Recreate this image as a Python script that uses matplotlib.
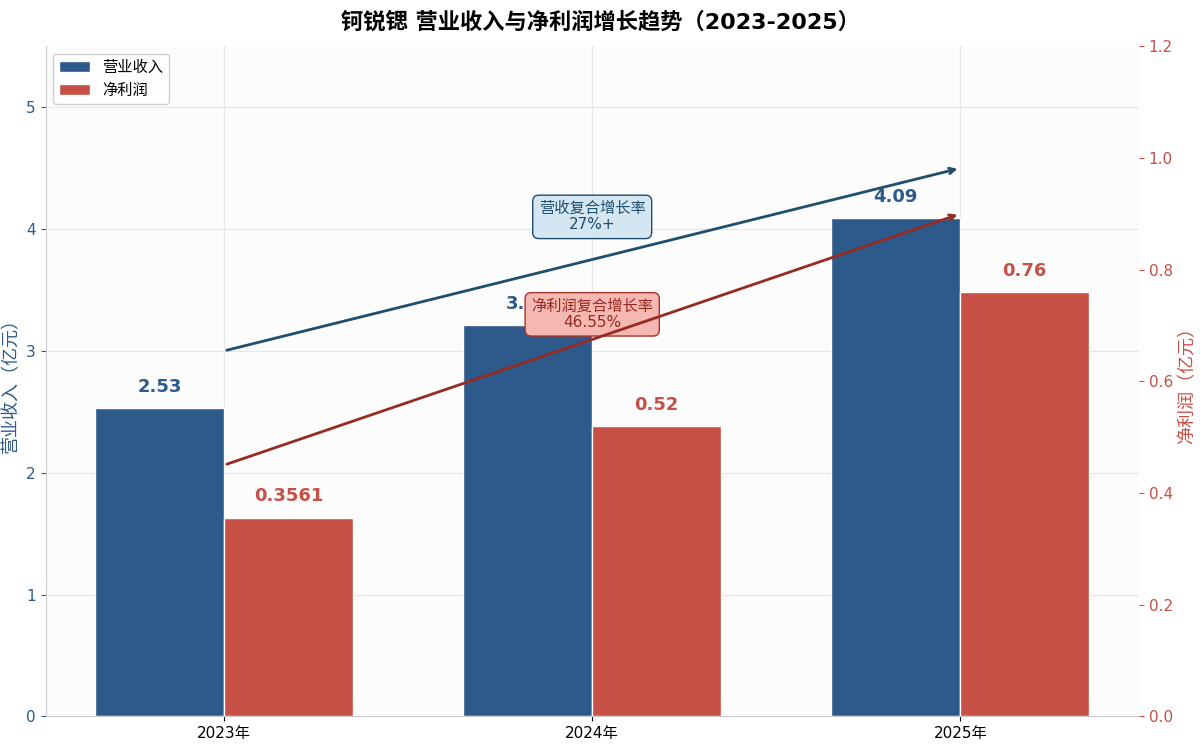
import matplotlib
matplotlib.use("Agg")
import matplotlib.pyplot as plt
import numpy as np

plt.rcParams['font.family'] = ['DejaVu Sans', 'Noto Sans CJK SC']
plt.rcParams['axes.unicode_minus'] = False

# data
years = ['2023年', '2024年', '2025年']
revenue = [2.53, 3.21, 4.09]
net_profit = [0.3561, 0.52, 0.76]
revenue_labels = ['2.53', '3.21', '4.09']
profit_labels = ['0.3561', '0.52', '0.76']
rev_arrow = [3.0, 4.5]
profit_arrow = [0.45, 0.9]

c_rev = '#2d5a8a'
c_net = '#c65046'

fig, ax1 = plt.subplots(figsize=(12, 7.47), dpi=100)
fig.subplots_adjust(left=0.038, right=0.949, top=0.938, bottom=0.041)
ax1.set_facecolor('#fcfcfc')
ax2 = ax1.twinx()

x = np.arange(len(years))
w = 0.35
b1 = ax1.bar(x - w / 2, revenue, w, color=c_rev, edgecolor='white', linewidth=1, label='营业收入')
b2 = ax2.bar(x + w / 2, net_profit, w, color=c_net, edgecolor='white', linewidth=1, label='净利润')

ax1.set_ylim(0, 5.5)
ax2.set_ylim(0, 1.2)
ax1.set_xticks(x)
ax1.set_xticklabels(years, fontsize=11)

ax1.grid(True, color='#e6e6e6', linewidth=0.8)
ax1.set_axisbelow(True)
for s in ['top', 'right']:
    ax1.spines[s].set_visible(False)
for s in ['top', 'right', 'left', 'bottom']:
    ax2.spines[s].set_visible(False)
ax1.spines['left'].set_color('#cccccc')
ax1.spines['bottom'].set_color('#cccccc')

ax1.tick_params(axis='y', colors=c_rev, labelsize=11)
ax2.tick_params(axis='y', colors=c_net, labelsize=11)
ax2.set_yticks([0.0, 0.2, 0.4, 0.6, 0.8, 1.0, 1.2])
ax1.set_ylabel('营业收入（亿元）', color=c_rev, fontsize=13, labelpad=4)
ax2.set_ylabel('净利润（亿元）', color=c_net, fontsize=13, labelpad=4)

for xi, v, t in zip(x, revenue, revenue_labels):
    ax1.text(xi - w / 2, v + 0.1, t, ha='center', va='bottom', color=c_rev,
             fontsize=13, fontweight='bold')
for xi, v, t in zip(x, net_profit, profit_labels):
    ax2.text(xi + w / 2, v + 0.022, t, ha='center', va='bottom', color=c_net,
             fontsize=13, fontweight='bold')

# growth arrows
ax1.annotate('', xy=(x[-1], rev_arrow[1]), xytext=(x[0], rev_arrow[0]),
             arrowprops=dict(arrowstyle='->', color='#1f4e6e', lw=2))
ax2.annotate('', xy=(x[-1], profit_arrow[1]), xytext=(x[0], profit_arrow[0]),
             arrowprops=dict(arrowstyle='->', color='#962b22', lw=2))

ax1.text(1.0, 4.1, '营收复合增长率\n27%+', ha='center', va='center', fontsize=11,
         color='#1f4e6e', linespacing=1.1,
         bbox=dict(boxstyle='round,pad=0.4', fc='#d4e6f1', ec='#1f4e6e', lw=1))
ax1.text(1.0, 3.3, '净利润复合增长率\n46.55%', ha='center', va='center', fontsize=11,
         color='#962b22', linespacing=1.1, zorder=10,
         bbox=dict(boxstyle='round,pad=0.4', fc='#f5b7b1', ec='#a93226', lw=1))

ax1.legend([b1, b2], ['营业收入', '净利润'], loc='upper left', fontsize=11, framealpha=0.9)

fig.suptitle('钶锐锶 营业收入与净利润增长趋势（2023-2025）', fontsize=16, fontweight='bold', y=0.985)

plt.savefig('out.png', dpi=100)
